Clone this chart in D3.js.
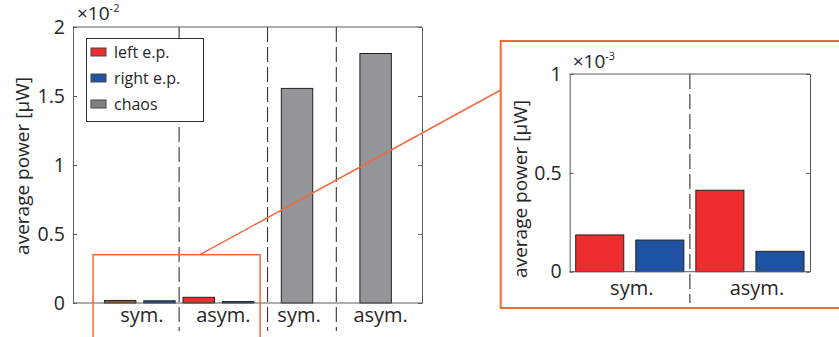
<!DOCTYPE html>
<meta charset="utf-8">
<style>
body{margin:0;background:#fff;}
text{font-family:"Open Sans",sans-serif;fill:#262626;}
.axis path,.axis line{stroke:#5a5a5a;}
.axis text{font-size:19.5px;fill:#262626;font-family:"Open Sans",sans-serif;}
</style>
<body>
<script src="https://cdn.jsdelivr.net/npm/d3@7"></script>
<script>

// data
var categories = ["sym.", "asym."];
var series = ["left e.p.", "right e.p.", "chaos"];
var leftEP  = [0.000186, 0.000412];   // µW
var rightEP = [0.000160, 0.000103];
var chaos   = [0.01555, 0.01808];
var mainTicks  = [0, 0.005, 0.01, 0.015, 0.02];
var insetTicks = [0, 0.0005, 0.001];

var colors = {"left e.p.":"#ee2e2e", "right e.p.":"#1e53a3", "chaos":"#939598"};
var orange = "#f26a3c";

var W = 839, H = 337;
var svg = d3.select("body").append("svg").attr("width", W).attr("height", H);

// ---------- main axes ----------
var x = d3.scaleLinear().domain([-1.2, 7.68]).range([73, 422]);
var y = d3.scaleLinear().domain([0, 0.02]).range([303, 27]);

var periodic = [];
categories.forEach(function(c, i){
  periodic.push({cat:c, s:"left e.p.",  v:leftEP[i],  pos:i*2});
  periodic.push({cat:c, s:"right e.p.", v:rightEP[i], pos:i*2+1});
});
var chaosBars = categories.map(function(c, i){ return {cat:c, s:"chaos", v:chaos[i], pos:4.5+i*2}; });

var g = svg.append("g");

// dashed separators (behind bars)
g.selectAll(".sep").data([1.5, 3.75, 5.5]).enter().append("line")
  .attr("x1", d=>x(d)).attr("x2", d=>x(d))
  .attr("y1", y(0.02)).attr("y2", 331)
  .attr("stroke", "#333").attr("stroke-width", 1.1)
  .attr("stroke-dasharray", "15,5");

var bw = x(0.8) - x(0);
g.selectAll(".bar").data(periodic.concat(chaosBars)).enter().append("rect")
  .attr("x", d=>x(d.pos) - bw/2)
  .attr("width", bw)
  .attr("y", d=>y(d.v))
  .attr("height", d=>y(0) - y(d.v))
  .attr("fill", d=>colors[d.s])
  .attr("stroke", "#222").attr("stroke-width", 1);

// frame + ticks
g.append("g").attr("class","axis").attr("transform","translate(73,0)")
  .call(d3.axisLeft(y).tickValues(mainTicks).tickFormat(d=>d3.format("")(+(d*100).toFixed(2))).tickSizeInner(-4).tickSizeOuter(0).tickPadding(8));
g.append("g").attr("class","axis").attr("transform","translate(422,0)")
  .call(d3.axisRight(y).tickValues(mainTicks).tickFormat("").tickSizeInner(-4).tickSizeOuter(0));
g.append("line").attr("x1",73).attr("x2",422).attr("y1",y(0.02)).attr("y2",y(0.02)).attr("stroke","#5a5a5a");
g.append("line").attr("x1",73).attr("x2",422).attr("y1",y(0)).attr("y2",y(0)).attr("stroke","#5a5a5a");

// category labels
var mainLabels = [{t:"sym.",p:0.5},{t:"asym.",p:2.5},{t:"sym.",p:4.5},{t:"asym.",p:6.5}];
g.selectAll(".xl").data(mainLabels).enter().append("text")
  .attr("x", d=>x(d.p) + (d.t=="asym." ? 5 : 2)).attr("y", 322)
  .attr("text-anchor","middle").style("font-size","20px").text(d=>d.t);

// y label
g.append("text").attr("transform","translate(29,166) rotate(-90)")
  .attr("text-anchor","middle").style("font-size","19px").text("average power [μW]");

// exponent
var ex = g.append("text").attr("x",77).attr("y",20).style("font-size","19px");
ex.append("tspan").text("×10");
ex.append("tspan").attr("dy",-8).style("font-size","11px").text("-2");

// legend
var leg = g.append("g");
leg.append("rect").attr("x",86.5).attr("y",38.5).attr("width",117).attr("height",83)
  .attr("fill","#fff").attr("stroke","#333").attr("stroke-width",1);
series.forEach(function(s, i){
  var cy = 52 + i*26;
  leg.append("rect").attr("x",91).attr("y",cy-4).attr("width",15).attr("height",8)
    .attr("fill", s=="chaos" ? "#7f8184" : colors[s]).attr("stroke","#444").attr("stroke-width",1);
  leg.append("text").attr("x",114).attr("y",cy+5.5).style("font-size","16px").text(s);
});

// ---------- zoom box & connector ----------
var zx0 = -0.69, zx1 = 3.56, zy1 = 0.0035;
svg.append("rect").attr("x",x(zx0)).attr("y",y(zy1)).attr("width",x(zx1)-x(zx0)).attr("height",120)
  .attr("fill","none").attr("stroke",orange).attr("stroke-width",1.5);
svg.append("line").attr("x1",x(2.03)).attr("y1",y(zy1)).attr("x2",500.7).attr("y2",90)
  .attr("stroke",orange).attr("stroke-width",1.5);

// ---------- inset ----------
svg.append("rect").attr("x",500.7).attr("y",41).attr("width",360).attr("height",267)
  .attr("fill","#fff").attr("stroke",orange).attr("stroke-width",2);

var xi = d3.scaleLinear().domain([0, 4]).range([569.7, 810]);
var yi = d3.scaleLinear().domain([0, 0.001]).range([271.7, 74]);
var gi = svg.append("g");

gi.append("line").attr("x1",xi(2)).attr("x2",xi(2)).attr("y1",yi(0.001)).attr("y2",303)
  .attr("stroke","#666").attr("stroke-width",1.5).attr("stroke-dasharray","15,5");

var bwi = xi(0.8) - xi(0);
gi.selectAll(".bar").data(periodic).enter().append("rect")
  .attr("x", d=>xi(d.pos + 0.5) - bwi/2)
  .attr("width", bwi)
  .attr("y", d=>yi(d.v))
  .attr("height", d=>yi(0) - yi(d.v))
  .attr("fill", d=>colors[d.s])
  .attr("stroke", "#222").attr("stroke-width", 1);

gi.append("g").attr("class","axis").attr("transform","translate(569.7,0)")
  .call(d3.axisLeft(yi).tickValues(insetTicks).tickFormat(d=>d3.format("")(+(d*1000).toFixed(2))).tickSizeInner(-4).tickSizeOuter(0).tickPadding(8));
gi.append("g").attr("class","axis").attr("transform","translate(810,0)")
  .call(d3.axisRight(yi).tickValues(insetTicks).tickFormat("").tickSizeInner(-4).tickSizeOuter(0));
gi.append("line").attr("x1",569.7).attr("x2",810).attr("y1",yi(0.001)).attr("y2",yi(0.001)).attr("stroke","#5a5a5a");
gi.append("line").attr("x1",569.7).attr("x2",810).attr("y1",yi(0)).attr("y2",yi(0)).attr("stroke","#5a5a5a");

gi.selectAll(".xl").data(categories).enter().append("text")
  .attr("x", (d,i)=>xi(1 + i*2) + (i ? 7 : 2)).attr("y", 295)
  .attr("text-anchor","middle").style("font-size","20px").text(d=>d);

gi.append("text").attr("transform","translate(527,189) rotate(-90)")
  .attr("text-anchor","middle").style("font-size","19px").text("average power [μW]");

var exi = gi.append("text").attr("x",572.7).attr("y",68).style("font-size","19px");
exi.append("tspan").text("×10");
exi.append("tspan").attr("dy",-8).style("font-size","11px").text("-3");

</script>
</body>
</html>
